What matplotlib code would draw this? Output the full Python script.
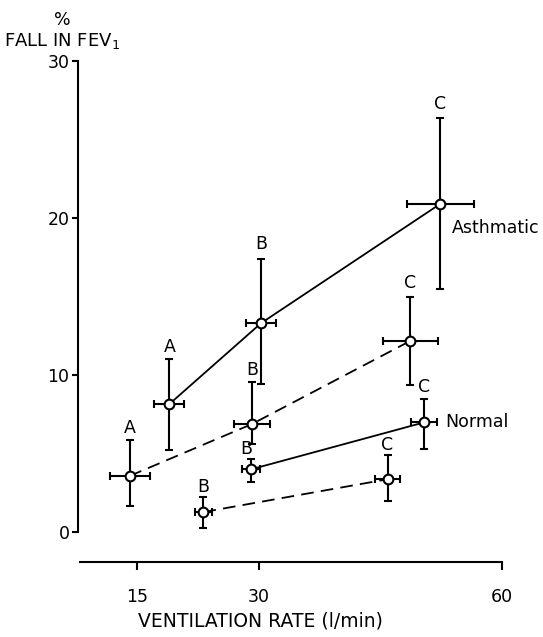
import matplotlib
matplotlib.use("Agg")
import matplotlib.pyplot as plt
import numpy as np

# ---- data ----
asth_solid_x = [19.0, 30.3, 52.4]
asth_solid_y = [8.15, 13.3, 20.9]
asth_solid_ylo = [2.95, 3.9, 5.4]
asth_solid_yhi = [2.85, 4.1, 5.5]
asth_solid_xerr = [1.85, 1.8, 4.15]
asth_solid_lbl = ["A", "B", "C"]

asth_dash_x = [14.1, 29.2, 48.7]
asth_dash_y = [3.57, 6.88, 12.17]
asth_dash_ylo = [1.91, 1.3, 2.81]
asth_dash_yhi = [2.29, 2.67, 2.83]
asth_dash_xerr = [2.45, 2.2, 3.4]
asth_dash_lbl = ["A", "B", "C"]

norm_solid_x = [29.06, 50.4]
norm_solid_y = [3.99, 6.98]
norm_solid_ylo = [0.8, 1.7]
norm_solid_yhi = [0.66, 1.5]
norm_solid_xerr = [1.15, 1.65]
norm_solid_lbl = ["B", "C"]

norm_dash_x = [23.2, 45.9]
norm_dash_y = [1.27, 3.36]
norm_dash_ylo = [1.0, 1.36]
norm_dash_yhi = [0.93, 1.54]
norm_dash_xerr = [1.0, 1.5]
norm_dash_lbl = ["B", "C"]

x_ticks = [15, 30, 60]
y_ticks = [0, 10, 20, 30]

FS = 12.5

W, H = 543, 637
fig = plt.figure(figsize=(W / 100, H / 100), dpi=100)

# axes placement: x px = 15.3 + 8.11*x ; y px(top) = 532 - 15.7*y
xlim = (4.0, 65.0)
ylim = (-4.0, 33.0)
px_l = 15.3 + 8.11 * xlim[0]
px_r = 15.3 + 8.11 * xlim[1]
py_b = 532 - 15.7 * ylim[0]
py_t = 532 - 15.7 * ylim[1]
ax = fig.add_axes([px_l / W, 1 - py_b / H, (px_r - px_l) / W, (py_b - py_t) / H])
ax.set_xlim(*xlim)
ax.set_ylim(*ylim)

for s in ["top", "right"]:
    ax.spines[s].set_visible(False)
ax.spines["left"].set_position(("data", 7.7))
ax.spines["left"].set_bounds(0, 30)
ax.spines["bottom"].set_position(("data", -1.9))
ax.spines["bottom"].set_bounds(8, 60)
for s in ["left", "bottom"]:
    ax.spines[s].set_linewidth(1.5)
    ax.spines[s].set_color("black")

ax.set_xticks(x_ticks)
ax.set_yticks(y_ticks)
ax.tick_params(axis="x", direction="out", length=6, width=1.5, pad=13, labelsize=FS)
ax.tick_params(axis="y", direction="out", length=4, width=1.5, pad=2, labelsize=FS)
ax.patch.set_alpha(0)


def series(x, y, ylo, yhi, xerr, lbls, dashed, lbl_off):
    if dashed:
        ax.plot(x, y, color="black", lw=1.3, ls="--", dashes=(7, 4), zorder=2)
    else:
        ax.plot(x, y, color="black", lw=1.3, ls="-", zorder=2)
    ax.errorbar(x, y, yerr=[ylo, yhi], xerr=xerr, fmt="o", color="black",
                mfc="white", mec="black", ms=7, mew=1.5, elinewidth=1.5,
                capsize=3, capthick=1.5, zorder=3)
    for i, t in enumerate(lbls):
        dx, dy = lbl_off[i]
        ax.annotate(t, (x[i], y[i] + yhi[i]), xytext=(dx, dy), textcoords="offset pixels",
                    ha="center", va="center", fontsize=FS)


series(asth_solid_x, asth_solid_y, asth_solid_ylo, asth_solid_yhi, asth_solid_xerr,
       asth_solid_lbl, False, [(0, 12), (0, 15), (0, 14)])
series(asth_dash_x, asth_dash_y, asth_dash_ylo, asth_dash_yhi, asth_dash_xerr,
       asth_dash_lbl, True, [(0, 12), (0, 12), (0, 13)])
series(norm_solid_x, norm_solid_y, norm_solid_ylo, norm_solid_yhi, norm_solid_xerr,
       norm_solid_lbl, False, [(-5, 10), (0, 12)])
series(norm_dash_x, norm_dash_y, norm_dash_ylo, norm_dash_yhi, norm_dash_xerr,
       norm_dash_lbl, True, [(0, 10), (0, 10)])

ax.annotate("Asthmatic", (asth_solid_x[-1], asth_solid_y[-1]), xytext=(12, -24),
            textcoords="offset pixels", ha="left", va="center", fontsize=FS)
ax.annotate("Normal", (norm_solid_x[-1], norm_solid_y[-1]), xytext=(21, 0),
            textcoords="offset pixels", ha="left", va="center", fontsize=FS)

fig.text(62 / W, 1 - 20 / H, "%", ha="center", va="center", fontsize=FS)
fig.text(4 / W, 1 - 41 / H, "FALL IN FEV$_1$", ha="left", va="center", fontsize=FS + 0.5)
fig.text(260 / W, 1 - 621 / H, "VENTILATION RATE (l/min)", ha="center", va="center", fontsize=FS + 1)

fig.savefig("out.png", dpi=100)
